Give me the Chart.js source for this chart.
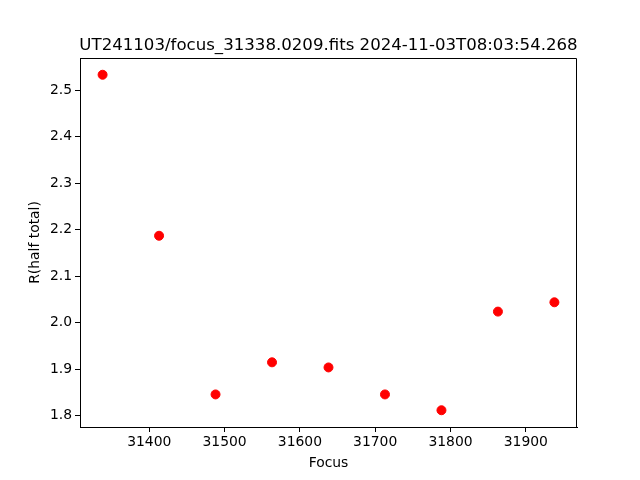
<!DOCTYPE html>
<html>
<head>
<meta charset="utf-8">
<script src="https://cdn.jsdelivr.net/npm/chart.js@4/dist/chart.umd.min.js"></script>
<style>
  body { margin: 0; background: #fff; }
</style>
</head>
<body>
<canvas id="focusChart" width="640" height="480"></canvas>
<script>
// data
const chartTitle = "UT241103/focus_31338.0209.fits 2024-11-03T08:03:54.268";
const focusValues = [31338, 31413, 31488, 31563, 31638, 31713, 31788, 31863, 31938];
const radiusValues = [2.533, 2.187, 1.846, 1.915, 1.904, 1.846, 1.812, 2.024, 2.044];
const xTicks = [31400, 31500, 31600, 31700, 31800, 31900];
const yTicks = [1.8, 1.9, 2.0, 2.1, 2.2, 2.3, 2.4, 2.5];

const fontFamily = "'DejaVu Sans', sans-serif";
const tickFont = { family: fontFamily, size: 13.9 };

// matplotlib-like box around the axes (top + right) and title centred over the plot area
const framePlugin = {
    id: "frame",
    beforeDatasetsDraw(chart) {
        const { ctx, chartArea: a } = chart;
        ctx.save();
        ctx.strokeStyle = "#000";
        ctx.lineWidth = 1;
        ctx.beginPath();
        ctx.moveTo(a.left, a.top + 0.5);
        ctx.lineTo(a.right - 0.5, a.top + 0.5);
        ctx.lineTo(a.right - 0.5, a.bottom);
        ctx.stroke();
        ctx.restore();
    },
    afterDraw(chart) {
        const { ctx, chartArea: a } = chart;
        ctx.save();
        ctx.fillStyle = "#000";
        ctx.font = "16.6px " + fontFamily;
        ctx.textAlign = "center";
        ctx.textBaseline = "alphabetic";
        ctx.fillText(chartTitle, (a.left + a.right) / 2, 50);
        ctx.restore();
    }
};

const points = focusValues.map((f, i) => ({ x: f, y: radiusValues[i] }));

new Chart(document.getElementById("focusChart"), {
    type: "scatter",
    data: {
        datasets: [{
            data: points,
            backgroundColor: "#ff0000",
            borderColor: "#ff0000",
            pointRadius: 4.5,
            pointHoverRadius: 4.5
        }]
    },
    options: {
        responsive: false,
        animation: false,
        devicePixelRatio: 1,
        layout: { padding: { top: 58, right: 63, left: 0, bottom: 0 } },
        plugins: { legend: { display: false }, tooltip: { enabled: false } },
        scales: {
            x: {
                type: "linear",
                min: 31308,
                max: 31968,
                afterFit: s => { s.height = 53; },
                afterBuildTicks: s => { s.ticks = xTicks.map(v => ({ value: v })); },
                ticks: {
                    color: "#000", font: tickFont, padding: 2,
                    maxRotation: 0, autoSkip: false,
                    callback: v => String(v)
                },
                grid: { display: true, drawOnChartArea: false, tickLength: 5, color: "#000" },
                border: { color: "#000", width: 1 },
                title: { display: true, text: "Focus", color: "#000", font: tickFont, padding: { top: 0, bottom: 8 } }
            },
            y: {
                type: "linear",
                min: 1.776,
                max: 2.569,
                afterFit: s => { s.width = 80; },
                afterBuildTicks: s => { s.ticks = yTicks.map(v => ({ value: v })); },
                ticks: {
                    color: "#000", font: tickFont, padding: 3,
                    autoSkip: false,
                    callback: v => v.toFixed(1)
                },
                grid: { display: true, drawOnChartArea: false, tickLength: 5, color: "#000" },
                border: { color: "#000", width: 1 },
                title: { display: true, text: "R(half total)", color: "#000", font: tickFont, padding: { top: 27 } }
            }
        }
    },
    plugins: [framePlugin]
});
</script>
</body>
</html>
